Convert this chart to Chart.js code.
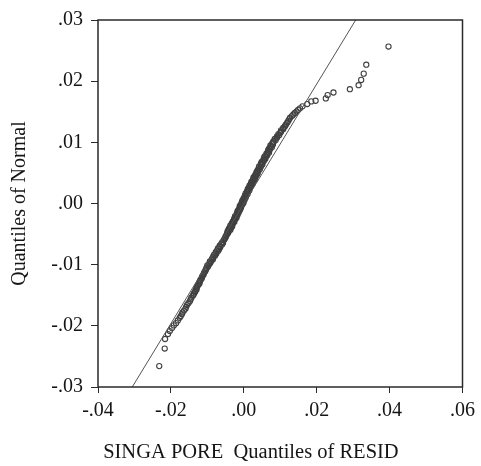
<!DOCTYPE html>
<html>
<head>
<meta charset="utf-8">
<script src="https://cdn.jsdelivr.net/npm/chart.js@4/dist/chart.umd.min.js"></script>
<style>
  html, body { margin: 0; padding: 0; background: #ffffff; }
  #wrap { width: 481px; height: 466px; }
</style>
</head>
<body>
<div id="wrap"><canvas id="c" width="481" height="466"></canvas></div>
<script>
// Quantiles of RESID (x) and matching Quantiles of Normal (y)
const residQuantiles = [
  -0.0232,-0.0217,-0.0216,-0.0208,-0.0203,-0.0197,-0.0192,-0.0186,-0.0181,-0.0176,
  -0.0173,-0.0170,-0.0168,-0.0164,-0.0160,-0.0158,-0.0156,-0.0152,-0.0148,-0.0146,-0.0144,-0.0140,
  -0.0138,-0.0137,-0.0134,-0.0133,-0.0130,-0.0130,-0.0129,-0.0127,-0.0125,-0.0122,-0.0122,-0.0120,-0.0119,-0.0116,-0.0115,-0.0114,-0.0111,-0.0110,-0.0109,-0.0106,-0.0105,-0.0103,-0.0102,
  -0.0098,-0.0100,-0.0094,-0.0094,-0.0091,-0.0093,-0.0089,-0.0085,-0.0087,-0.0084,-0.0084,-0.0079,-0.0082,-0.0076,-0.0077,-0.0077,-0.0071,-0.0073,-0.0068,-0.0071,-0.0065,-0.0066,-0.0066,-0.0060,-0.0062,-0.0057,-0.0059,
  -0.0055,-0.0053,-0.0052,-0.0050,-0.0050,-0.0048,-0.0047,-0.0046,
  -0.0043,-0.0045,-0.0042,-0.0044,-0.0037,-0.0039,-0.0041,-0.0035,-0.0037,-0.0032,-0.0037,-0.0032,-0.0031,-0.0033,-0.0030,-0.0026,-0.0030,-0.0026,-0.0027,-0.0023,-0.0026,-0.0020,-0.0022,-0.0024,-0.0019,-0.0017,-0.0018,
  -0.0019,-0.0014,-0.0015,-0.0017,-0.0011,-0.0011,-0.0013,-0.0008,-0.0011,-0.0007,-0.0011,-0.0007,-0.0004,-0.0007,
  -0.0001,-0.0005,-0.0001,-0.0004,0.0002,0.0001,-0.0001,0.0005,0.0002,0.0006,0.0003,0.0007,0.0010,0.0005,0.0009,0.0012,0.0009,0.0015,0.0012,0.0011,0.0017,0.0016,0.0015,
  0.0020,0.0016,0.0021,0.0024,0.0020,0.0023,0.0021,0.0027,0.0025,0.0030,0.0026,0.0030,0.0027,0.0033,0.0032,0.0031,0.0037,0.0034,0.0038,0.0035,0.0040,0.0038,0.0044,
  0.0041,0.0046,0.0042,0.0048,0.0051,0.0047,0.0051,0.0049,0.0055,0.0054,0.0059,0.0055,0.0060,0.0057,0.0064,0.0063,0.0062,0.0069,0.0066,0.0070,0.0067,0.0072,0.0070,0.0077,0.0075,0.0073,0.0080,0.0078,0.0081,
  0.0081,0.0087,0.0085,0.0091,0.0091,0.0097,0.0095,0.0100,0.0102,0.0102,0.0108,0.0108,
  0.0112,0.0114,0.0116,0.0119,0.0122,0.0125,0.0127,0.0132,0.0136,0.0140,0.0145,0.0149,
  0.0154,0.0161,0.0174,0.0185,0.0197,0.0225,0.0230,0.0246,0.0291,0.0315,0.0322,0.0329,0.0336,0.0397
];
const normalQuantiles = [
  -0.02658,-0.02371,-0.02215,-0.02134,-0.02085,-0.02037,-0.01993,-0.01956,-0.01912,-0.01869,
  -0.0184,-0.0181,-0.0178,-0.0175,-0.0172,-0.0169,-0.0166,-0.0163,-0.0160,-0.0157,-0.0154,-0.0151,
  -0.0149,-0.0147,-0.0145,-0.0143,-0.0141,-0.0139,-0.0137,-0.0135,-0.0133,-0.0131,-0.0129,-0.0127,-0.0125,-0.0123,-0.0121,-0.0119,-0.0117,-0.0115,-0.0113,-0.0111,-0.0109,-0.0107,-0.0105,
  -0.0103,-0.0101,-0.0099,-0.00975,-0.0096,-0.00945,-0.0093,-0.00915,-0.0090,-0.00885,-0.0087,-0.00855,-0.0084,-0.00825,-0.0081,-0.00795,-0.0078,-0.00765,-0.0075,-0.00735,-0.0072,-0.00705,-0.0069,-0.00675,-0.0066,-0.00645,-0.0063,
  -0.0060,-0.00585,-0.0057,-0.00555,-0.0054,-0.00525,-0.0051,-0.00495,
  -0.00483,-0.00471,-0.00459,-0.00447,-0.00435,-0.00423,-0.00411,-0.00399,-0.00387,-0.00375,-0.00363,-0.00351,-0.00339,-0.00327,-0.00315,-0.00303,-0.00291,-0.00279,-0.00267,-0.00255,-0.00243,-0.00231,-0.00219,-0.00207,-0.00195,-0.00183,-0.00171,
  -0.00159,-0.00147,-0.00135,-0.00123,-0.00111,-0.00099,-0.00087,-0.00075,-0.00063,-0.00051,-0.00039,-0.00027,-0.00015,-0.00003,
  0.00009,0.00021,0.00033,0.00045,0.00057,0.00069,0.00081,0.00093,0.00105,0.00117,0.00129,0.00141,0.00153,0.00165,0.00177,0.00189,0.00201,0.00213,0.00225,0.00237,0.00249,0.00261,0.00273,
  0.00285,0.00297,0.00309,0.00321,0.00333,0.00345,0.00357,0.00369,0.00381,0.00393,0.00405,0.00417,0.00429,0.00441,0.00453,0.00465,0.00477,0.00489,0.00501,0.00516,0.00531,0.00546,0.00561,
  0.00576,0.00591,0.00606,0.00621,0.00636,0.00651,0.00666,0.00681,0.00696,0.00711,0.00726,0.00741,0.00756,0.00771,0.00786,0.00801,0.00816,0.00831,0.00846,0.00861,0.00876,0.00891,0.00906,0.00921,0.00936,0.00951,0.00966,0.00981,0.00996,
  0.01015,0.01035,0.01055,0.01075,0.01095,0.01115,0.01135,0.01155,0.01175,0.01195,0.01215,0.01235,
  0.01255,0.01275,0.01295,0.01320,0.01350,0.01380,0.01405,0.01430,0.01455,0.01480,0.01505,0.01530,
  0.01556,0.01588,0.01626,0.01669,0.01680,0.01718,0.01772,0.01815,0.01869,0.01934,0.02021,0.02123,0.02269,0.02566
];
// Reference line endpoints (x, y)
const refLineX = [-0.0306, 0.0307];
const refLineY = [-0.03, 0.03];

const xTickValues = [-0.04, -0.02, 0.00, 0.02, 0.04, 0.06];
const xTickLabels = ['-.04', '-.02', '.00', '.02', '.04', '.06'];
const yTickValues = [-0.03, -0.02, -0.01, 0.00, 0.01, 0.02, 0.03];
const yTickLabels = ['-.03', '-.02', '-.01', '.00', '.01', '.02', '.03'];

const xTitle = ' SINGA PORE  Quantiles of RESID';
const yTitle = 'Quantiles of Normal';

const points = residQuantiles.map((x, i) => ({ x: x, y: normalQuantiles[i] }));
const linePts = refLineX.map((x, i) => ({ x: x, y: refLineY[i] }));

const FONT = "'Liberation Serif', 'Times New Roman', serif";
const INK = '#151515';

const framePlugin = {
  id: 'frame',
  afterDatasetsDraw(chart) {
    const a = chart.chartArea, ctx = chart.ctx;
    ctx.save();
    ctx.strokeStyle = '#2a2a2a';
    ctx.lineWidth = 1.5;
    ctx.strokeRect(a.left, a.top, a.right - a.left, a.bottom - a.top);
    ctx.restore();
  }
};

new Chart(document.getElementById('c'), {
  data: {
    datasets: [
      {
        type: 'line',
        data: linePts,
        borderColor: '#555555',
        borderWidth: 1,
        pointRadius: 0,
        fill: false,
        tension: 0
      },
      {
        type: 'scatter',
        data: points,
        pointStyle: 'circle',
        pointRadius: 2.6,
        pointBorderWidth: 1.1,
        borderColor: '#404040',
        backgroundColor: 'rgba(0,0,0,0)',
        pointBackgroundColor: 'rgba(0,0,0,0)',
        pointBorderColor: '#404040'
      }
    ]
  },
  options: {
    responsive: false,
    animation: false,
    devicePixelRatio: 1,
    layout: { padding: { top: 17, right: 13, left: 0, bottom: 0 } },
    plugins: { legend: { display: false }, tooltip: { enabled: false } },
    scales: {
      x: {
        type: 'linear',
        min: -0.04, max: 0.06,
        afterBuildTicks(s) { s.ticks = xTickValues.map(v => ({ value: v })); },
        afterFit(s) { s.height = 79; },
        grid: { display: true, drawOnChartArea: false, drawTicks: true, tickLength: 6, color: '#2a2a2a', lineWidth: 1 },
        border: { display: false },
        ticks: {
          color: INK, padding: 6, maxRotation: 0, autoSkip: false,
          font: { family: FONT, size: 20 },
          callback: (v, i) => xTickLabels[i]
        },
        title: {
          display: true, text: xTitle, color: INK, align: 'start',
          font: { family: FONT, size: 20.5 },
          padding: { top: 1, bottom: 1 }
        }
      },
      y: {
        type: 'linear',
        min: -0.03, max: 0.03,
        afterBuildTicks(s) { s.ticks = yTickValues.map(v => ({ value: v })); },
        afterFit(s) { s.width = 98; },
        grid: { display: true, drawOnChartArea: false, drawTicks: true, tickLength: 7, color: '#2a2a2a', lineWidth: 1 },
        border: { display: false },
        ticks: {
          color: INK, padding: 8, autoSkip: false,
          font: { family: FONT, size: 20 },
          callback: (v, i) => yTickLabels[i]
        },
        title: {
          display: true, text: yTitle, color: INK,
          font: { family: FONT, size: 20 },
          padding: { top: 8, bottom: 0 }
        }
      }
    }
  },
  plugins: [framePlugin]
});
</script>
</body>
</html>
